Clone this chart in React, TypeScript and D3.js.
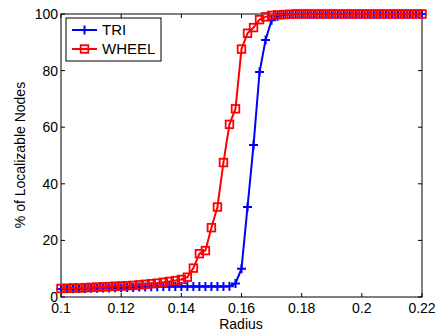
import * as d3 from 'd3';
import React from 'react';

// radius sampled every 0.002
const radius = [
  0.1, 0.102, 0.104, 0.106, 0.108, 0.11, 0.112, 0.114, 0.116, 0.118,
  0.12, 0.122, 0.124, 0.126, 0.128, 0.13, 0.132, 0.134, 0.136, 0.138,
  0.14, 0.142, 0.144, 0.146, 0.148, 0.15, 0.152, 0.154, 0.156, 0.158,
  0.16, 0.162, 0.164, 0.166, 0.168, 0.17, 0.172, 0.174, 0.176, 0.178,
  0.18, 0.182, 0.184, 0.186, 0.188, 0.19, 0.192, 0.194, 0.196, 0.198,
  0.2, 0.202, 0.204, 0.206, 0.208, 0.21, 0.212, 0.214, 0.216, 0.218,
  0.22,
];

const triValues = [
  2.8, 2.9, 2.9, 3.0, 3.0, 3.1, 3.1, 3.2, 3.2, 3.3,
  3.3, 3.4, 3.4, 3.5, 3.5, 3.6, 3.6, 3.7, 3.7, 3.7,
  3.7, 3.7, 3.7, 3.7, 3.7, 3.7, 3.7, 3.7, 3.8, 4.8,
  10.0, 31.8, 53.7, 79.5, 90.8, 97.8, 99.2, 99.7, 99.9, 100,
  100, 100, 100, 100, 100, 100, 100, 100, 100, 100,
  100, 100, 100, 100, 100, 100, 100, 100, 100, 100,
  100,
];

const wheelValues = [
  3.0, 3.1, 3.2, 3.2, 3.3, 3.4, 3.5, 3.6, 3.7, 3.8,
  3.9, 4.0, 4.1, 4.3, 4.5, 4.7, 4.9, 5.2, 5.5, 5.8,
  6.2, 7.0, 10.2, 15.3, 16.4, 24.5, 31.8, 47.5, 61.0, 66.5,
  87.6, 93.2, 95.2, 98.0, 99.0, 99.5, 99.7, 99.8, 99.9, 100,
  100, 100, 100, 100, 100, 100, 100, 100, 100, 100,
  100, 100, 100, 100, 100, 100, 100, 100, 100, 100,
  100,
];

const xTicks = [0.1, 0.12, 0.14, 0.16, 0.18, 0.2, 0.22];
const yTicks = [0, 20, 40, 60, 80, 100];
const seriesNames = ['TRI', 'WHEEL'];

const width = 443;
const height = 333;
const left = 61;
const right = 422;
const top = 14;
const bottom = 297;
const font = 'Arial, "Liberation Sans", sans-serif';

export default function App() {
  const x = d3.scaleLinear().domain([0.1, 0.22]).range([left, right]);
  const y = d3.scaleLinear().domain([0, 100]).range([bottom, top]);

  const line = d3
    .line<number>()
    .x((_, i) => x(radius[i]))
    .y(d => y(d));

  const tick = 4;
  const plus = 4.5;
  const sq = 3.8;

  const plusMarker = (cx: number, cy: number, key: string | number) => (
    <path
      key={key}
      d={`M${cx - plus},${cy}H${cx + plus}M${cx},${cy - plus}V${cy + plus}`}
      stroke="#0000ff"
      strokeWidth={2}
      fill="none"
    />
  );
  const squareMarker = (cx: number, cy: number, key: string | number) => (
    <rect
      key={key}
      x={cx - sq}
      y={cy - sq}
      width={sq * 2}
      height={sq * 2}
      stroke="#ff0000"
      strokeWidth={1.8}
      fill="none"
    />
  );

  return (
    <div style={{ position: 'absolute', left: 0, top: 0 }}>
      <svg width={width} height={height} style={{ display: 'block', background: '#fff' }}>
        {/* axes box */}
        <rect x={left} y={top} width={right - left} height={bottom - top} fill="#fff" stroke="#000" strokeWidth={1} />

        {/* ticks */}
        {xTicks.map(t => (
          <g key={'xt' + t}>
            <line x1={x(t)} x2={x(t)} y1={bottom} y2={bottom - tick} stroke="#000" />
            <line x1={x(t)} x2={x(t)} y1={top} y2={top + tick} stroke="#000" />
            <text
              x={x(t)}
              y={313}
              textAnchor="middle"
              fontFamily={font}
              fontSize={14}
            >
              {d3.format('')(t)}
            </text>
          </g>
        ))}
        {yTicks.map(t => (
          <g key={'yt' + t}>
            <line x1={left} x2={left + tick} y1={y(t)} y2={y(t)} stroke="#000" />
            <line x1={right} x2={right - tick} y1={y(t)} y2={y(t)} stroke="#000" />
            <text
              x={58}
              y={y(t)}
              dy="0.35em"
              textAnchor="end"
              fontFamily={font}
              fontSize={14}
            >
              {t}
            </text>
          </g>
        ))}

        {/* series */}
        <path d={line(triValues) || ''} stroke="#0000ff" strokeWidth={2} fill="none" />
        {triValues.map((v, i) => plusMarker(x(radius[i]), y(v), 't' + i))}
        <path d={line(wheelValues) || ''} stroke="#ff0000" strokeWidth={2} fill="none" />
        {wheelValues.map((v, i) => squareMarker(x(radius[i]), y(v), 'w' + i))}

        {/* axis labels */}
        <text x={241} y={329} textAnchor="middle" fontFamily={font} fontSize={14}>
          Radius
        </text>
        <text
          transform={`translate(25,155) rotate(-90)`}
          textAnchor="middle"
          fontFamily={font}
          fontSize={14}
        >
          % of Localizable Nodes
        </text>

        {/* legend */}
        <g>
          <rect x={66} y={18} width={95} height={43} fill="#fff" stroke="#000" strokeWidth={1} />
          <line x1={72} x2={97} y1={30} y2={30} stroke="#0000ff" strokeWidth={2} />
          {plusMarker(84.5, 30, 'lt')}
          <text x={102} y={30} dy="0.35em" fontFamily={font} fontSize={15}>
            {seriesNames[0]}
          </text>
          <line x1={72} x2={97} y1={49} y2={49} stroke="#ff0000" strokeWidth={2} />
          {squareMarker(84.5, 49, 'lw')}
          <text x={102} y={49} dy="0.35em" fontFamily={font} fontSize={15}>
            {seriesNames[1]}
          </text>
        </g>
      </svg>
    </div>
  );
}
